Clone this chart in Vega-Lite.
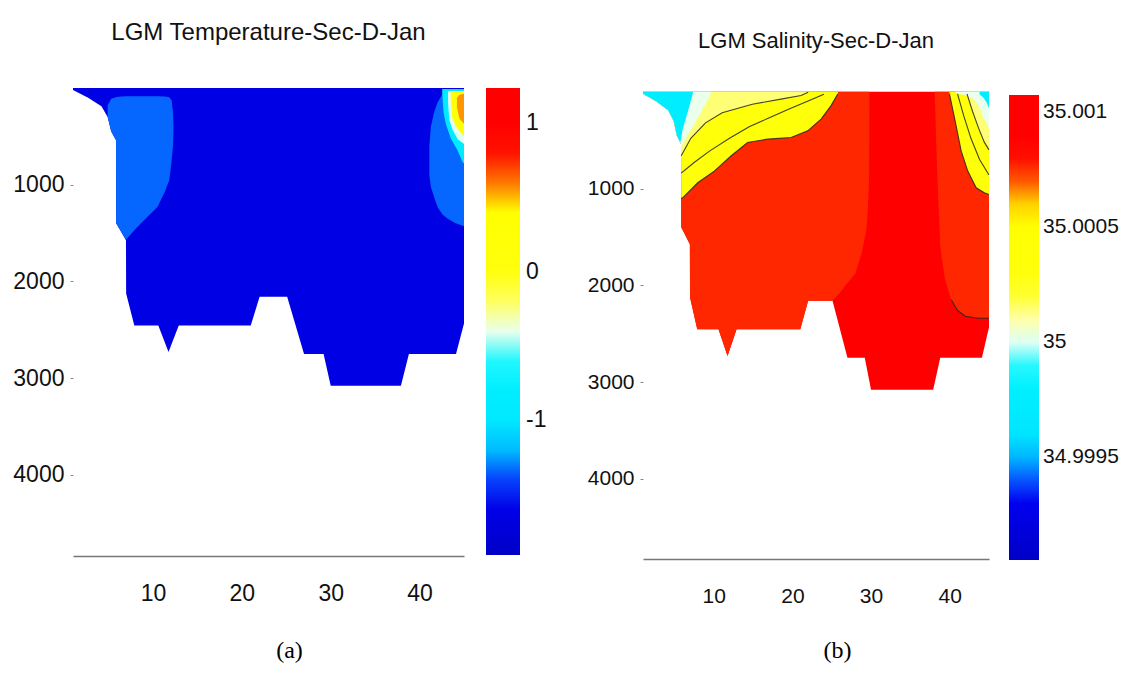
{
  "$schema": "https://vega.github.io/schema/vega-lite/v6.json",
  "background": "white",
  "padding": {"left": 12, "top": 21, "right": 5, "bottom": 5},
  "bounds": "flush",
  "spacing": 179,
  "resolve": {"scale": {"fill": "independent"}, "legend": {"fill": "independent"}},
  "config": {"view": {"stroke": null}, "axis": {"grid": false}},
  "datasets": {
    "temp": [
      {"region":"base","v":-1.623,"x":1.0,"top":0,"bottom":20},
      {"region":"base","v":-1.623,"x":2.7,"top":0,"bottom":100},
      {"region":"base","v":-1.623,"x":4.2,"top":0,"bottom":190},
      {"region":"base","v":-1.623,"x":4.9,"top":0,"bottom":300},
      {"region":"base","v":-1.623,"x":5.3,"top":0,"bottom":450},
      {"region":"base","v":-1.623,"x":5.84,"top":0,"bottom":540},
      {"region":"base","v":-1.623,"x":5.86,"top":0,"bottom":1400},
      {"region":"base","v":-1.623,"x":6.96,"top":0,"bottom":1575},
      {"region":"base","v":-1.623,"x":6.98,"top":0,"bottom":2125},
      {"region":"base","v":-1.623,"x":7.9,"top":0,"bottom":2455},
      {"region":"base","v":-1.623,"x":10.6,"top":0,"bottom":2455},
      {"region":"base","v":-1.623,"x":11.75,"top":0,"bottom":2730},
      {"region":"base","v":-1.623,"x":12.9,"top":0,"bottom":2455},
      {"region":"base","v":-1.623,"x":21.0,"top":0,"bottom":2455},
      {"region":"base","v":-1.623,"x":22.0,"top":0,"bottom":2160},
      {"region":"base","v":-1.623,"x":25.1,"top":0,"bottom":2160},
      {"region":"base","v":-1.623,"x":27.0,"top":0,"bottom":2750},
      {"region":"base","v":-1.623,"x":29.2,"top":0,"bottom":2750},
      {"region":"base","v":-1.623,"x":30.0,"top":0,"bottom":3080},
      {"region":"base","v":-1.623,"x":37.9,"top":0,"bottom":3080},
      {"region":"base","v":-1.623,"x":38.8,"top":0,"bottom":2750},
      {"region":"base","v":-1.623,"x":44.1,"top":0,"bottom":2750},
      {"region":"base","v":-1.623,"x":45.0,"top":0,"bottom":2435},
      {"region":"blobL","v":-1.34,"x":4.9,"top":180,"bottom":300},
      {"region":"blobL","v":-1.34,"x":5.3,"top":110,"bottom":450},
      {"region":"blobL","v":-1.34,"x":5.84,"top":95,"bottom":540},
      {"region":"blobL","v":-1.34,"x":5.86,"top":92,"bottom":1400},
      {"region":"blobL","v":-1.34,"x":6.5,"top":88,"bottom":1500},
      {"region":"blobL","v":-1.34,"x":6.96,"top":86,"bottom":1570},
      {"region":"blobL","v":-1.34,"x":8.0,"top":85,"bottom":1460},
      {"region":"blobL","v":-1.34,"x":8.65,"top":85,"bottom":1400},
      {"region":"blobL","v":-1.34,"x":9.5,"top":85,"bottom":1320},
      {"region":"blobL","v":-1.34,"x":10.5,"top":86,"bottom":1230},
      {"region":"blobL","v":-1.34,"x":11.3,"top":88,"bottom":1080},
      {"region":"blobL","v":-1.34,"x":11.83,"top":95,"bottom":953},
      {"region":"blobL","v":-1.34,"x":12.1,"top":130,"bottom":750},
      {"region":"blobL","v":-1.34,"x":12.25,"top":250,"bottom":600},
      {"region":"blobL","v":-1.34,"x":12.3,"top":400,"bottom":450},
      {"region":"blobR","v":-1.34,"x":41.1,"top":600,"bottom":900},
      {"region":"blobR","v":-1.34,"x":41.27,"top":400,"bottom":1022},
      {"region":"blobR","v":-1.34,"x":41.64,"top":250,"bottom":1130},
      {"region":"blobR","v":-1.34,"x":42.02,"top":150,"bottom":1230},
      {"region":"blobR","v":-1.34,"x":42.6,"top":60,"bottom":1310},
      {"region":"blobR","v":-1.34,"x":43.15,"top":30,"bottom":1350},
      {"region":"blobR","v":-1.34,"x":44.0,"top":20,"bottom":1395},
      {"region":"blobR","v":-1.34,"x":45.0,"top":15,"bottom":1430},
      {"region":"cyanR","v":-0.9,"x":42.55,"top":10,"bottom":60},
      {"region":"cyanR","v":-0.9,"x":42.7,"top":10,"bottom":250},
      {"region":"cyanR","v":-0.9,"x":42.95,"top":10,"bottom":370},
      {"region":"cyanR","v":-0.9,"x":43.5,"top":10,"bottom":520},
      {"region":"cyanR","v":-0.9,"x":44.25,"top":10,"bottom":640},
      {"region":"cyanR","v":-0.9,"x":44.8,"top":10,"bottom":760},
      {"region":"cyanR","v":-0.9,"x":45.0,"top":10,"bottom":780},
      {"region":"whiteR","v":-0.428,"x":43.2,"top":30,"bottom":150},
      {"region":"whiteR","v":-0.428,"x":43.35,"top":30,"bottom":330},
      {"region":"whiteR","v":-0.428,"x":43.7,"top":30,"bottom":430},
      {"region":"whiteR","v":-0.428,"x":44.3,"top":30,"bottom":530},
      {"region":"whiteR","v":-0.428,"x":45.0,"top":30,"bottom":580},
      {"region":"yellowR","v":0.138,"x":43.5,"top":40,"bottom":120},
      {"region":"yellowR","v":0.138,"x":43.65,"top":35,"bottom":300},
      {"region":"yellowR","v":0.138,"x":44.0,"top":35,"bottom":380},
      {"region":"yellowR","v":0.138,"x":44.5,"top":35,"bottom":450},
      {"region":"yellowR","v":0.138,"x":45.0,"top":35,"bottom":500},
      {"region":"orangeR","v":0.563,"x":44.2,"top":100,"bottom":200},
      {"region":"orangeR","v":0.563,"x":44.5,"top":70,"bottom":320},
      {"region":"orangeR","v":0.563,"x":45.0,"top":60,"bottom":370}
    ],
    "sal": [
      {"region":"base","v":35.00095,"x":1.0,"top":0,"bottom":20},
      {"region":"base","v":35.00095,"x":2.7,"top":0,"bottom":100},
      {"region":"base","v":35.00095,"x":4.2,"top":0,"bottom":190},
      {"region":"base","v":35.00095,"x":4.9,"top":0,"bottom":300},
      {"region":"base","v":35.00095,"x":5.3,"top":0,"bottom":450},
      {"region":"base","v":35.00095,"x":5.84,"top":0,"bottom":540},
      {"region":"base","v":35.00095,"x":5.86,"top":0,"bottom":1400},
      {"region":"base","v":35.00095,"x":6.96,"top":0,"bottom":1575},
      {"region":"base","v":35.00095,"x":6.98,"top":0,"bottom":2125},
      {"region":"base","v":35.00095,"x":7.9,"top":0,"bottom":2455},
      {"region":"base","v":35.00095,"x":10.6,"top":0,"bottom":2455},
      {"region":"base","v":35.00095,"x":11.75,"top":0,"bottom":2730},
      {"region":"base","v":35.00095,"x":12.9,"top":0,"bottom":2455},
      {"region":"base","v":35.00095,"x":21.0,"top":0,"bottom":2455},
      {"region":"base","v":35.00095,"x":22.0,"top":0,"bottom":2160},
      {"region":"base","v":35.00095,"x":25.1,"top":0,"bottom":2160},
      {"region":"base","v":35.00095,"x":27.0,"top":0,"bottom":2750},
      {"region":"base","v":35.00095,"x":29.2,"top":0,"bottom":2750},
      {"region":"base","v":35.00095,"x":30.0,"top":0,"bottom":3080},
      {"region":"base","v":35.00095,"x":37.9,"top":0,"bottom":3080},
      {"region":"base","v":35.00095,"x":38.8,"top":0,"bottom":2750},
      {"region":"base","v":35.00095,"x":44.1,"top":0,"bottom":2750},
      {"region":"base","v":35.00095,"x":45.0,"top":0,"bottom":2435},
      {"region":"orangeL","v":35.000763,"x":1.0,"top":0,"bottom":20},
      {"region":"orangeL","v":35.000763,"x":2.7,"top":0,"bottom":100},
      {"region":"orangeL","v":35.000763,"x":4.2,"top":0,"bottom":190},
      {"region":"orangeL","v":35.000763,"x":4.9,"top":0,"bottom":300},
      {"region":"orangeL","v":35.000763,"x":5.3,"top":0,"bottom":450},
      {"region":"orangeL","v":35.000763,"x":5.84,"top":0,"bottom":540},
      {"region":"orangeL","v":35.000763,"x":5.86,"top":0,"bottom":1400},
      {"region":"orangeL","v":35.000763,"x":6.96,"top":0,"bottom":1575},
      {"region":"orangeL","v":35.000763,"x":6.98,"top":0,"bottom":2125},
      {"region":"orangeL","v":35.000763,"x":7.9,"top":0,"bottom":2455},
      {"region":"orangeL","v":35.000763,"x":10.6,"top":0,"bottom":2455},
      {"region":"orangeL","v":35.000763,"x":11.75,"top":0,"bottom":2730},
      {"region":"orangeL","v":35.000763,"x":12.9,"top":0,"bottom":2455},
      {"region":"orangeL","v":35.000763,"x":21.0,"top":0,"bottom":2455},
      {"region":"orangeL","v":35.000763,"x":22.0,"top":0,"bottom":2160},
      {"region":"orangeL","v":35.000763,"x":25.1,"top":0,"bottom":2160},
      {"region":"orangeL","v":35.000763,"x":26.0,"top":0,"bottom":2080},
      {"region":"orangeL","v":35.000763,"x":26.6,"top":0,"bottom":2016},
      {"region":"orangeL","v":35.000763,"x":28.0,"top":0,"bottom":1878},
      {"region":"orangeL","v":35.000763,"x":28.8,"top":0,"bottom":1670},
      {"region":"orangeL","v":35.000763,"x":29.4,"top":0,"bottom":1426},
      {"region":"orangeL","v":35.000763,"x":29.6,"top":0,"bottom":1200},
      {"region":"orangeL","v":35.000763,"x":29.75,"top":0,"bottom":900},
      {"region":"orangeL","v":35.000763,"x":29.8,"top":0,"bottom":0},
      {"region":"orangeR","v":35.000763,"x":38.1,"top":0,"bottom":20},
      {"region":"orangeR","v":35.000763,"x":38.4,"top":0,"bottom":800},
      {"region":"orangeR","v":35.000763,"x":38.8,"top":0,"bottom":1600},
      {"region":"orangeR","v":35.000763,"x":39.4,"top":0,"bottom":1940},
      {"region":"orangeR","v":35.000763,"x":40.2,"top":0,"bottom":2150},
      {"region":"orangeR","v":35.000763,"x":41.0,"top":0,"bottom":2260},
      {"region":"orangeR","v":35.000763,"x":42.0,"top":0,"bottom":2320},
      {"region":"orangeR","v":35.000763,"x":43.6,"top":0,"bottom":2340},
      {"region":"orangeR","v":35.000763,"x":45.0,"top":0,"bottom":2340},
      {"region":"yellowL","v":35.000368,"x":1.0,"top":0,"bottom":20},
      {"region":"yellowL","v":35.000368,"x":2.7,"top":0,"bottom":100},
      {"region":"yellowL","v":35.000368,"x":4.2,"top":0,"bottom":190},
      {"region":"yellowL","v":35.000368,"x":4.9,"top":0,"bottom":300},
      {"region":"yellowL","v":35.000368,"x":5.3,"top":0,"bottom":450},
      {"region":"yellowL","v":35.000368,"x":5.84,"top":0,"bottom":540},
      {"region":"yellowL","v":35.000368,"x":5.86,"top":0,"bottom":1100},
      {"region":"yellowL","v":35.000368,"x":6.05,"top":0,"bottom":1096},
      {"region":"yellowL","v":35.000368,"x":7.96,"top":0,"bottom":940},
      {"region":"yellowL","v":35.000368,"x":10.07,"top":0,"bottom":819},
      {"region":"yellowL","v":35.000368,"x":12.19,"top":0,"bottom":663},
      {"region":"yellowL","v":35.000368,"x":14.3,"top":0,"bottom":524},
      {"region":"yellowL","v":35.000368,"x":16.86,"top":0,"bottom":489},
      {"region":"yellowL","v":35.000368,"x":19.83,"top":0,"bottom":472},
      {"region":"yellowL","v":35.000368,"x":21.95,"top":0,"bottom":403},
      {"region":"yellowL","v":35.000368,"x":23.65,"top":0,"bottom":281},
      {"region":"yellowL","v":35.000368,"x":24.92,"top":0,"bottom":142},
      {"region":"yellowL","v":35.000368,"x":25.77,"top":0,"bottom":21},
      {"region":"yellowL","v":35.000368,"x":25.8,"top":0,"bottom":0},
      {"region":"yellowR","v":35.000368,"x":39.97,"top":0,"bottom":21},
      {"region":"yellowR","v":35.000368,"x":40.6,"top":0,"bottom":264},
      {"region":"yellowR","v":35.000368,"x":41.46,"top":0,"bottom":611},
      {"region":"yellowR","v":35.000368,"x":42.3,"top":0,"bottom":819},
      {"region":"yellowR","v":35.000368,"x":43.37,"top":0,"bottom":992},
      {"region":"yellowR","v":35.000368,"x":44.4,"top":0,"bottom":1044},
      {"region":"yellowR","v":35.000368,"x":45.0,"top":0,"bottom":1061},
      {"region":"paleL","v":35.000136,"x":1.0,"top":0,"bottom":20},
      {"region":"paleL","v":35.000136,"x":2.7,"top":0,"bottom":100},
      {"region":"paleL","v":35.000136,"x":4.2,"top":0,"bottom":190},
      {"region":"paleL","v":35.000136,"x":4.9,"top":0,"bottom":300},
      {"region":"paleL","v":35.000136,"x":5.3,"top":0,"bottom":450},
      {"region":"paleL","v":35.000136,"x":5.84,"top":0,"bottom":540},
      {"region":"paleL","v":35.000136,"x":5.86,"top":0,"bottom":660},
      {"region":"paleL","v":35.000136,"x":7.08,"top":0,"bottom":480},
      {"region":"paleL","v":35.000136,"x":8.95,"top":0,"bottom":320},
      {"region":"paleL","v":35.000136,"x":11.07,"top":0,"bottom":215},
      {"region":"paleL","v":35.000136,"x":14.9,"top":0,"bottom":128},
      {"region":"paleL","v":35.000136,"x":18.55,"top":0,"bottom":75},
      {"region":"paleL","v":35.000136,"x":21.1,"top":0,"bottom":38},
      {"region":"paleL","v":35.000136,"x":22.0,"top":0,"bottom":0},
      {"region":"paleR","v":35.000136,"x":42.2,"top":0,"bottom":20},
      {"region":"paleR","v":35.000136,"x":42.9,"top":0,"bottom":200},
      {"region":"paleR","v":35.000136,"x":43.7,"top":0,"bottom":380},
      {"region":"paleR","v":35.000136,"x":44.4,"top":0,"bottom":520},
      {"region":"paleR","v":35.000136,"x":45.0,"top":0,"bottom":600},
      {"region":"whiteL","v":35.000025,"x":1.0,"top":0,"bottom":20},
      {"region":"whiteL","v":35.000025,"x":2.7,"top":0,"bottom":100},
      {"region":"whiteL","v":35.000025,"x":4.2,"top":0,"bottom":190},
      {"region":"whiteL","v":35.000025,"x":4.9,"top":0,"bottom":300},
      {"region":"whiteL","v":35.000025,"x":5.3,"top":0,"bottom":450},
      {"region":"whiteL","v":35.000025,"x":5.84,"top":0,"bottom":540},
      {"region":"whiteL","v":35.000025,"x":5.86,"top":0,"bottom":580},
      {"region":"whiteL","v":35.000025,"x":6.05,"top":0,"bottom":540},
      {"region":"whiteL","v":35.000025,"x":7.1,"top":0,"bottom":390},
      {"region":"whiteL","v":35.000025,"x":8.4,"top":0,"bottom":210},
      {"region":"whiteL","v":35.000025,"x":9.6,"top":0,"bottom":21},
      {"region":"whiteL","v":35.000025,"x":9.65,"top":0,"bottom":0},
      {"region":"whiteR","v":35.000025,"x":40.8,"top":0,"bottom":15},
      {"region":"whiteR","v":35.000025,"x":42.0,"top":0,"bottom":35},
      {"region":"whiteR","v":35.000025,"x":43.0,"top":0,"bottom":70},
      {"region":"whiteR","v":35.000025,"x":43.6,"top":0,"bottom":130},
      {"region":"whiteR","v":35.000025,"x":44.2,"top":0,"bottom":250},
      {"region":"whiteR","v":35.000025,"x":45.0,"top":0,"bottom":380},
      {"region":"cyanL","v":34.999721,"x":1.0,"top":0,"bottom":20},
      {"region":"cyanL","v":34.999721,"x":2.7,"top":0,"bottom":100},
      {"region":"cyanL","v":34.999721,"x":4.2,"top":0,"bottom":190},
      {"region":"cyanL","v":34.999721,"x":4.9,"top":0,"bottom":300},
      {"region":"cyanL","v":34.999721,"x":5.3,"top":0,"bottom":450},
      {"region":"cyanL","v":34.999721,"x":5.75,"top":0,"bottom":525},
      {"region":"cyanL","v":34.999721,"x":6.05,"top":0,"bottom":385},
      {"region":"cyanL","v":34.999721,"x":6.68,"top":0,"bottom":211},
      {"region":"cyanL","v":34.999721,"x":7.32,"top":0,"bottom":21},
      {"region":"cyanL","v":34.999721,"x":7.35,"top":0,"bottom":0},
      {"region":"cyanR","v":34.999721,"x":43.8,"top":0,"bottom":25},
      {"region":"cyanR","v":34.999721,"x":44.3,"top":0,"bottom":60},
      {"region":"cyanR","v":34.999721,"x":44.7,"top":0,"bottom":110},
      {"region":"cyanR","v":34.999721,"x":45.0,"top":0,"bottom":170}
    ],
    "sallines": [
      {"line":"D","x":5.86,"top":1100},{"line":"D","x":6.05,"top":1096},{"line":"D","x":7.96,"top":940},{"line":"D","x":10.07,"top":819},{"line":"D","x":12.19,"top":663},{"line":"D","x":14.3,"top":524},{"line":"D","x":16.86,"top":489},{"line":"D","x":19.83,"top":472},{"line":"D","x":21.95,"top":403},{"line":"D","x":23.65,"top":281},{"line":"D","x":24.92,"top":142},{"line":"D","x":25.77,"top":21},
      {"line":"L1","x":5.86,"top":660},{"line":"L1","x":7.08,"top":480},{"line":"L1","x":8.95,"top":320},{"line":"L1","x":11.07,"top":215},{"line":"L1","x":14.9,"top":128},{"line":"L1","x":18.55,"top":75},{"line":"L1","x":21.1,"top":38},{"line":"L1","x":22.0,"top":5},
      {"line":"L2","x":5.86,"top":840},{"line":"L2","x":7.5,"top":730},{"line":"L2","x":9.5,"top":610},{"line":"L2","x":12.0,"top":480},{"line":"L2","x":14.5,"top":360},{"line":"L2","x":17.0,"top":270},{"line":"L2","x":19.5,"top":180},{"line":"L2","x":22.0,"top":95},{"line":"L2","x":24.0,"top":25},
      {"line":"Dr","x":39.97,"top":21},{"line":"Dr","x":40.6,"top":264},{"line":"Dr","x":41.46,"top":611},{"line":"Dr","x":42.3,"top":819},{"line":"Dr","x":43.37,"top":992},{"line":"Dr","x":44.4,"top":1044},{"line":"Dr","x":45.0,"top":1061},
      {"line":"Lr1","x":41.0,"top":20},{"line":"Lr1","x":41.8,"top":250},{"line":"Lr1","x":42.7,"top":480},{"line":"Lr1","x":43.8,"top":700},{"line":"Lr1","x":45.0,"top":860},
      {"line":"Lr2","x":42.2,"top":20},{"line":"Lr2","x":42.9,"top":200},{"line":"Lr2","x":43.7,"top":380},{"line":"Lr2","x":44.4,"top":520},{"line":"Lr2","x":45.0,"top":600},
      {"line":"Rb","x":40.2,"top":2150},{"line":"Rb","x":41.0,"top":2260},{"line":"Rb","x":42.0,"top":2320},{"line":"Rb","x":43.6,"top":2340},{"line":"Rb","x":45.0,"top":2340}
    ]
  },
  "hconcat": [
    {
      "width": 391,
      "height": 468,
      "data": {"name": "temp"},
      "title": {"text": "LGM Temperature-Sec-D-Jan", "font": "Liberation Sans, Arial, sans-serif", "fontSize": 24, "fontWeight": "normal", "color": "#111111", "anchor": "middle", "offset": 43},
      "encoding": {
        "x": {"field": "x", "type": "quantitative", "scale": {"domain": [1, 45], "nice": false, "zero": false},
          "axis": {"values": [10, 20, 30, 40], "format": "d", "title": "(a)", "titleFont": "Liberation Serif, Times New Roman, serif", "titleFontSize": 24, "titleFontWeight": "normal", "titleColor": "#000000", "titleX": 216, "titleY": 94, "titleBaseline": "middle", "titleAlign": "center", "labelFont": "Liberation Sans, Arial, sans-serif", "labelFontSize": 23, "labelColor": "#111111", "labelPadding": 26, "ticks": false, "domainColor": "#777777", "domainWidth": 1.5, "labelFlush": false}},
        "y": {"field": "top", "type": "quantitative", "stack": null, "scale": {"domain": [0, 4840], "reverse": true, "nice": false, "zero": false},
          "axis": {"values": [1000, 2000, 3000, 4000], "format": "d", "title": null, "domain": false, "tickSize": 3, "tickColor": "#888888", "labelFont": "Liberation Sans, Arial, sans-serif", "labelFontSize": 23, "labelColor": "#111111", "labelPadding": 6}},
        "y2": {"field": "bottom"},
        "fill": {"field": "v", "type": "quantitative",
          "scale": {"domain": [-1.906, 1.239],
                    "range": ["#0000c8","#0000d5","#0000e3","#0000f0","#084bff","#00a2ff","#00e3ff","#00e8ff","#00ecff","#00f1ff","#21f7ff","#d3fffd","#ffffdd","#ffff63","#ffff12","#ffff0b","#ffff07","#ffff02","#ffff00","#ff8100","#ff3700","#ff0000","#ff0000","#ff0000","#ff0000"],
                    "interpolate": "rgb", "zero": false, "nice": false},
          "legend": {"orient": "none", "legendX": 413, "legendY": 0, "direction": "vertical", "gradientLength": 467, "gradientThickness": 34, "gradientStrokeWidth": 0, "values": [-1, 0, 1], "title": null, "padding": 0, "labelFont": "Liberation Sans, Arial, sans-serif", "labelFontSize": 23, "labelColor": "#111111", "labelOffset": 6, "labelOverlap": false, "labelExpr": "datum.value < 0 ? '-' + abs(datum.value) : '' + datum.value"}}
      },
      "layer": [
        {"transform": [{"filter": "datum.region === 'base'"}], "mark": {"type": "area", "orient": "vertical", "opacity": 1, "interpolate": "linear"}},
        {"transform": [{"filter": "datum.region === 'blobL'"}], "mark": {"type": "area", "orient": "vertical", "opacity": 1, "interpolate": "linear"}},
        {"transform": [{"filter": "datum.region === 'blobR'"}], "mark": {"type": "area", "orient": "vertical", "opacity": 1, "interpolate": "linear"}},
        {"transform": [{"filter": "datum.region === 'cyanR'"}], "mark": {"type": "area", "orient": "vertical", "opacity": 1, "interpolate": "linear"}},
        {"transform": [{"filter": "datum.region === 'whiteR'"}], "mark": {"type": "area", "orient": "vertical", "opacity": 1, "interpolate": "linear"}},
        {"transform": [{"filter": "datum.region === 'yellowR'"}], "mark": {"type": "area", "orient": "vertical", "opacity": 1, "interpolate": "linear"}},
        {"transform": [{"filter": "datum.region === 'orangeR'"}], "mark": {"type": "area", "orient": "vertical", "opacity": 1, "interpolate": "linear"}}
      ]
    },
    {
      "width": 346,
      "height": 471,
      "title": {"text": "LGM Salinity-Sec-D-Jan", "font": "Liberation Sans, Arial, sans-serif", "fontSize": 22, "fontWeight": "normal", "color": "#111111", "anchor": "middle", "offset": 35},
      "layer": [
        {
          "data": {"name": "sal"},
          "encoding": {
            "x": {"field": "x", "type": "quantitative", "scale": {"domain": [1, 45], "nice": false, "zero": false},
              "axis": {"values": [10, 20, 30, 40], "format": "d", "title": "(b)", "titleFont": "Liberation Serif, Times New Roman, serif", "titleFontSize": 24, "titleFontWeight": "normal", "titleColor": "#000000", "titleX": 194, "titleY": 91, "titleBaseline": "middle", "titleAlign": "center", "labelFont": "Liberation Sans, Arial, sans-serif", "labelFontSize": 21, "labelColor": "#111111", "labelPadding": 26, "ticks": false, "domainColor": "#777777", "domainWidth": 1.5, "labelFlush": false}},
            "y": {"field": "top", "type": "quantitative", "stack": null, "scale": {"domain": [-40, 4830], "reverse": true, "nice": false, "zero": false},
              "axis": {"values": [1000, 2000, 3000, 4000], "format": "d", "title": null, "domain": false, "tickSize": 3, "tickColor": "#888888", "labelFont": "Liberation Sans, Arial, sans-serif", "labelFontSize": 21, "labelColor": "#111111", "labelPadding": 6}},
            "y2": {"field": "bottom"},
            "fill": {"field": "v", "type": "quantitative",
              "scale": {"domain": [34.999054, 35.001076],
                        "range": ["#0000c8","#0000d5","#0000e3","#0000f0","#084bff","#00a2ff","#00e3ff","#00e8ff","#00ecff","#00f1ff","#21f7ff","#d3fffd","#ffffdd","#ffff63","#ffff12","#ffff0b","#ffff07","#ffff02","#ffff00","#ff8100","#ff3700","#ff0000","#ff0000","#ff0000","#ff0000"],
                        "interpolate": "rgb", "zero": false, "nice": false},
              "legend": {"orient": "none", "legendX": 366, "legendY": 7, "direction": "vertical", "gradientLength": 465, "gradientThickness": 30, "gradientStrokeWidth": 0, "values": [34.9995, 35, 35.0005, 35.001], "format": ".6~r", "title": null, "padding": 0, "labelFont": "Liberation Sans, Arial, sans-serif", "labelFontSize": 21, "labelColor": "#111111", "labelOffset": 4, "labelOverlap": false}}
          },
          "layer": [
            {"transform": [{"filter": "datum.region === 'base'"}], "mark": {"type": "area", "orient": "vertical", "opacity": 1, "interpolate": "linear"}},
            {"transform": [{"filter": "datum.region === 'orangeL'"}], "mark": {"type": "area", "orient": "vertical", "opacity": 1, "interpolate": "linear"}},
            {"transform": [{"filter": "datum.region === 'orangeR'"}], "mark": {"type": "area", "orient": "vertical", "opacity": 1, "interpolate": "linear"}},
            {"transform": [{"filter": "datum.region === 'yellowL'"}], "mark": {"type": "area", "orient": "vertical", "opacity": 1, "interpolate": "linear"}},
            {"transform": [{"filter": "datum.region === 'yellowR'"}], "mark": {"type": "area", "orient": "vertical", "opacity": 1, "interpolate": "linear"}},
            {"transform": [{"filter": "datum.region === 'paleL'"}], "mark": {"type": "area", "orient": "vertical", "opacity": 1, "interpolate": "linear"}},
            {"transform": [{"filter": "datum.region === 'paleR'"}], "mark": {"type": "area", "orient": "vertical", "opacity": 1, "interpolate": "linear"}},
            {"transform": [{"filter": "datum.region === 'whiteL'"}], "mark": {"type": "area", "orient": "vertical", "opacity": 1, "interpolate": "linear"}},
            {"transform": [{"filter": "datum.region === 'whiteR'"}], "mark": {"type": "area", "orient": "vertical", "opacity": 1, "interpolate": "linear"}},
            {"transform": [{"filter": "datum.region === 'cyanL'"}], "mark": {"type": "area", "orient": "vertical", "opacity": 1, "interpolate": "linear"}},
            {"transform": [{"filter": "datum.region === 'cyanR'"}], "mark": {"type": "area", "orient": "vertical", "opacity": 1, "interpolate": "linear"}}
          ]
        },
        {
          "data": {"name": "sallines"},
          "mark": {"type": "line", "color": "#222222", "strokeWidth": 1.1, "opacity": 0.85, "interpolate": "linear"},
          "encoding": {
            "x": {"field": "x", "type": "quantitative", "scale": {"domain": [1, 45], "nice": false, "zero": false}},
            "y": {"field": "top", "type": "quantitative", "scale": {"domain": [-40, 4830], "reverse": true, "nice": false, "zero": false}},
            "detail": {"field": "line", "type": "nominal"}
          }
        }
      ]
    }
  ]
}
